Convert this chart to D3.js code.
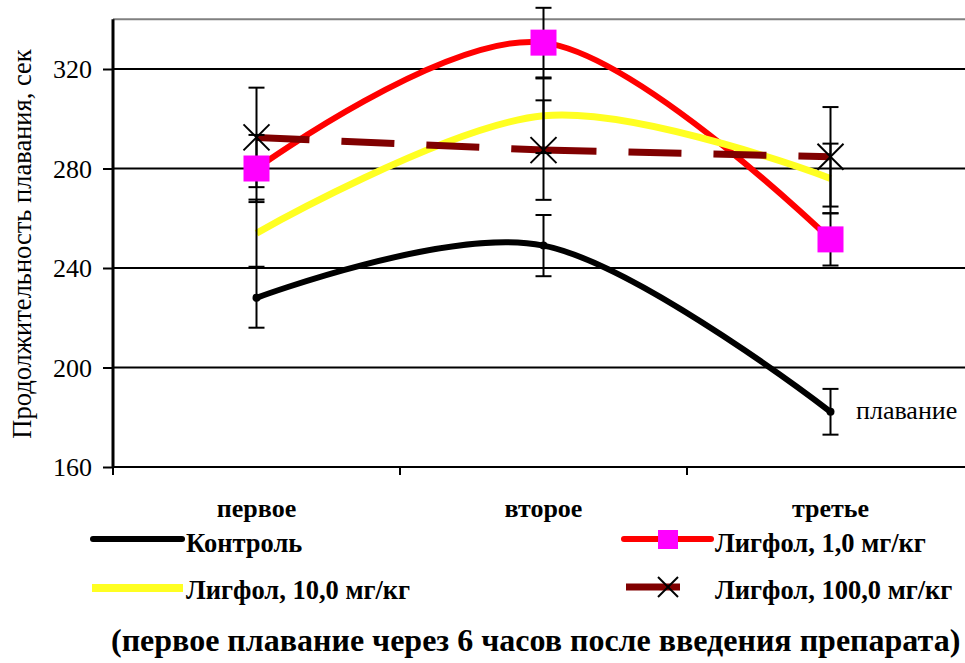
<!DOCTYPE html>
<html>
<head>
<meta charset="utf-8">
<script src="https://cdn.jsdelivr.net/npm/d3@7"></script>
<style>
body { margin: 0; background: #fff; }
</style>
</head>
<body>
<div id="chart"></div>
<script>
// data
const categories = ["первое", "второе", "третье"];
const yTicks = [160, 200, 240, 280, 320];
const seriesNames = ["Контроль", "Лигфол, 1,0 мг/кг", "Лигфол, 10,0 мг/кг", "Лигфол, 100,0 мг/кг"];
const control = [228, 249, 182.2];
const controlErr = [12, 12.3, 9.2];
const lig1 = [280, 330.6, 251.5];
const lig1Err = [13.5, 14, 10.5];
const lig10 = [254, 301.2, 276];
const lig10Err = [13.5, 15, 14];
const lig100 = [292.5, 287.4, 284.7];
const lig100Err = [20, 20, 20];

const FONT = "'Liberation Serif', 'Times New Roman', 'DejaVu Serif', serif";
const W = 965, H = 663;
const plotLeft = 113, plotRight = 974, plotTop = 19, plotBottom = 467;

const svg = d3.select("#chart").append("svg")
	.attr("width", W)
	.attr("height", H)
	.style("font-family", FONT);

const x = d3.scaleBand()
	.domain(categories)
	.range([plotLeft, plotRight]);

const y = d3.scaleLinear()
	.domain([160, 340])
	.range([plotBottom, 69 - 20 * (plotBottom - 69) / 160]);

const cx = (i) => x(categories[i]) + x.bandwidth() / 2;

// gridlines + top border
svg.append("g")
	.selectAll("line")
	.data(yTicks.slice(1))
	.enter()
	.append("line")
	.attr("x1", plotLeft).attr("x2", plotRight)
	.attr("y1", d => y(d)).attr("y2", d => y(d))
	.attr("stroke", "#000").attr("stroke-width", 2);

svg.append("line")
	.attr("x1", plotLeft).attr("x2", plotRight)
	.attr("y1", y(340)).attr("y2", y(340))
	.attr("stroke", "#808080").attr("stroke-width", 2);

// y axis
const yAxis = svg.append("g")
	.attr("transform", "translate(" + plotLeft + ",0)")
	.call(d3.axisLeft(y).tickValues(yTicks).tickSize(10).tickPadding(11));
yAxis.attr("font-family", null).attr("font-size", null);
yAxis.select(".domain").remove();
yAxis.selectAll(".tick line").attr("stroke", "#000").attr("stroke-width", 2);
yAxis.selectAll(".tick text")
	.style("font-family", FONT)
	.style("font-size", "26px")
	.attr("fill", "#000")
	.attr("dy", "0.33em");

svg.append("line")
	.attr("x1", plotLeft).attr("x2", plotLeft)
	.attr("y1", y(340)).attr("y2", plotBottom + 1)
	.attr("stroke", "#000").attr("stroke-width", 3);

// x axis
svg.append("line")
	.attr("x1", plotLeft).attr("x2", plotRight)
	.attr("y1", plotBottom).attr("y2", plotBottom)
	.attr("stroke", "#000").attr("stroke-width", 2);

svg.append("g")
	.selectAll("line")
	.data(categories.map(c => x(c)).concat([x.range()[1]]))
	.enter()
	.append("line")
	.attr("x1", d => d).attr("x2", d => d)
	.attr("y1", plotBottom).attr("y2", plotBottom + 8)
	.attr("stroke", "#000").attr("stroke-width", 2);

svg.append("g")
	.selectAll("text")
	.data(categories)
	.enter()
	.append("text")
	.attr("x", (d, i) => cx(i))
	.attr("y", 517)
	.attr("text-anchor", "middle")
	.style("font-size", "26px")
	.style("font-weight", "bold")
	.text(d => d);

// y title
svg.append("text")
	.attr("transform", "translate(31," + ((plotTop + plotBottom) / 2 + 1) + ") rotate(-90)")
	.attr("text-anchor", "middle")
	.style("font-size", "26.5px")
	.text("Продолжительность плавания, сек");

// lines
const smooth = d3.line()
	.x((d, i) => cx(i))
	.y(d => y(d))
	.curve(d3.curveCardinal.tension(0));

svg.append("path").attr("d", smooth(control))
	.attr("fill", "none").attr("stroke", "#000").attr("stroke-width", 6)
	.attr("stroke-linecap", "round");
svg.append("path").attr("d", smooth(lig1))
	.attr("fill", "none").attr("stroke", "#ff0000").attr("stroke-width", 6)
	.attr("stroke-linecap", "round");
svg.append("path").attr("d", smooth(lig10))
	.attr("fill", "none").attr("stroke", "#ffff22").attr("stroke-width", 7);

// dashed series, pattern restarts at each point
svg.append("g")
	.selectAll("line")
	.data(d3.pairs(lig100.map((v, i) => [cx(i), y(v)])))
	.enter()
	.append("line")
	.attr("x1", d => d[0][0]).attr("y1", d => d[0][1])
	.attr("x2", d => d[1][0]).attr("y2", d => d[1][1])
	.attr("stroke", "#800000").attr("stroke-width", 7)
	.attr("stroke-dasharray", "53,32");

// error bars
const errSets = [[control, controlErr], [lig1, lig1Err], [lig10, lig10Err], [lig100, lig100Err]];
const errG = svg.append("g").attr("stroke", "#000").attr("stroke-width", 2);
errSets.forEach(([vals, errs]) => {
	vals.forEach((v, i) => {
		const px = cx(i);
		errG.append("line")
			.attr("x1", px).attr("x2", px)
			.attr("y1", y(v + errs[i])).attr("y2", y(v - errs[i]));
		[v + errs[i], v - errs[i]].forEach(e => {
			errG.append("line")
				.attr("x1", px - 8).attr("x2", px + 8)
				.attr("y1", y(e)).attr("y2", y(e));
		});
	});
});

// markers
svg.append("g")
	.selectAll("circle")
	.data(control)
	.enter()
	.append("circle")
	.attr("cx", (d, i) => cx(i))
	.attr("cy", d => y(d))
	.attr("r", 4)
	.attr("fill", "#000");

svg.append("g")
	.selectAll("rect")
	.data(lig1)
	.enter()
	.append("rect")
	.attr("x", (d, i) => cx(i) - 13)
	.attr("y", d => y(d) - 13)
	.attr("width", 26).attr("height", 26)
	.attr("fill", "#ff00ff");

const cross = (g, px, py, s) => {
	g.append("line").attr("x1", px - s).attr("y1", py - s).attr("x2", px + s).attr("y2", py + s);
	g.append("line").attr("x1", px - s).attr("y1", py + s).attr("x2", px + s).attr("y2", py - s);
};
const crossG = svg.append("g").attr("stroke", "#000").attr("stroke-width", 2);
lig100.forEach((v, i) => cross(crossG, cx(i), y(v), 13));

// label near the last control point
svg.append("text")
	.attr("x", 856)
	.attr("y", 419)
	.style("font-size", "26px")
	.text("плавание");

// legend
const leg = svg.append("g");
leg.append("line").attr("x1", 93).attr("x2", 182).attr("y1", 539).attr("y2", 539)
	.attr("stroke", "#000").attr("stroke-width", 6).attr("stroke-linecap", "round");
leg.append("line").attr("x1", 624).attr("x2", 711).attr("y1", 539).attr("y2", 539)
	.attr("stroke", "#ff0000").attr("stroke-width", 6).attr("stroke-linecap", "round");
leg.append("rect").attr("x", 658).attr("y", 530).attr("width", 20).attr("height", 19)
	.attr("fill", "#ff00ff");
leg.append("line").attr("x1", 92).attr("x2", 183).attr("y1", 588).attr("y2", 588)
	.attr("stroke", "#ffff22").attr("stroke-width", 8);
leg.append("line").attr("x1", 626).attr("x2", 680).attr("y1", 587).attr("y2", 587)
	.attr("stroke", "#800000").attr("stroke-width", 7);
const legCross = leg.append("g").attr("stroke", "#000").attr("stroke-width", 2);
cross(legCross, 668, 587, 10);

const legPos = [[186, 552], [715, 552], [186, 599], [715, 599]];
leg.selectAll("text")
	.data(seriesNames)
	.enter()
	.append("text")
	.attr("x", (d, i) => legPos[i][0])
	.attr("y", (d, i) => legPos[i][1])
	.style("font-size", "26.5px")
	.style("font-weight", "bold")
	.text(d => d);

svg.append("text")
	.attr("x", 111)
	.attr("y", 651)
	.style("font-size", "32px")
	.style("font-weight", "bold")
	.text("(первое плавание через 6 часов после введения препарата)");
</script>
</body>
</html>
